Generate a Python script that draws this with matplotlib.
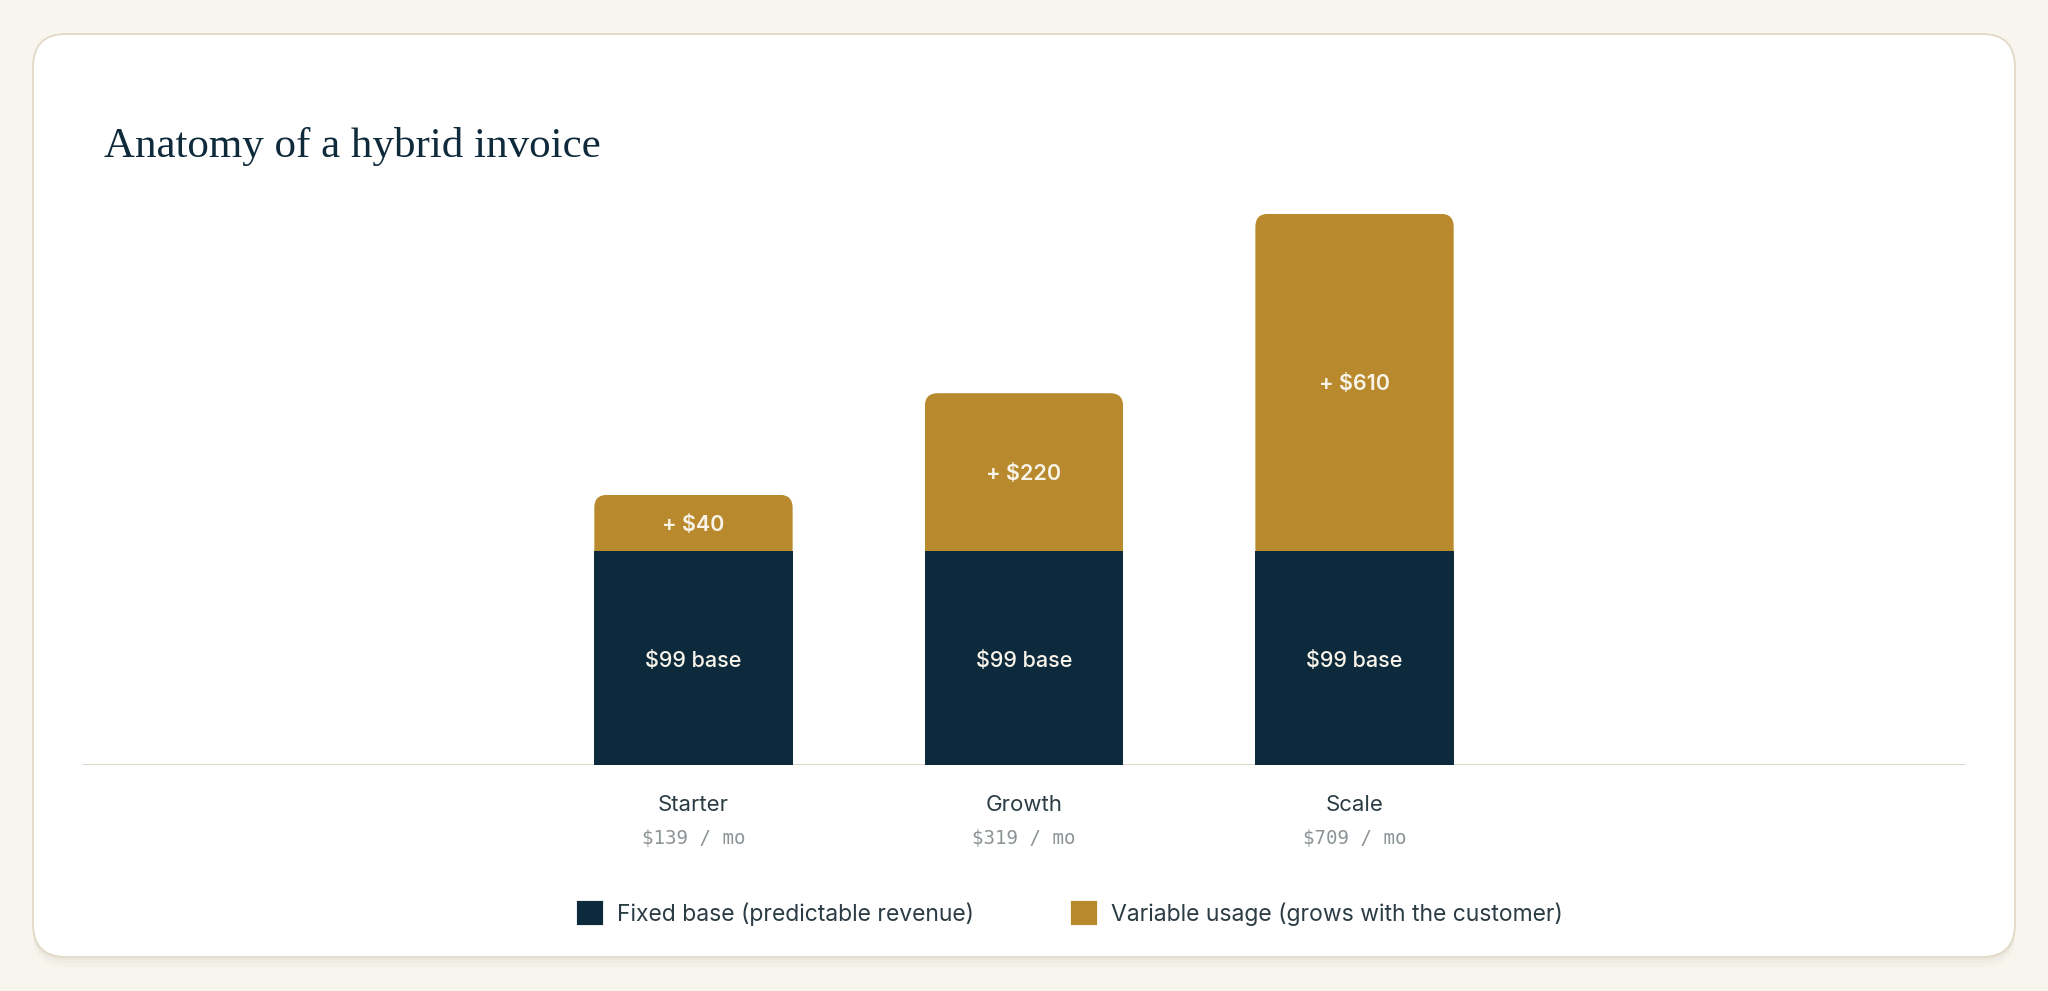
import matplotlib
matplotlib.use("Agg")
import matplotlib.pyplot as plt
from matplotlib.patches import FancyBboxPatch, Patch
import numpy as np

# ---- data ----
plans = ["Starter", "Growth", "Scale"]
base_fee = [99, 99, 99]
usage_fee = [40, 220, 610]
monthly_total = [139, 319, 709]
# segment heights as drawn on the chart (the chart does not draw $ linearly)
base_height = [99, 99, 99]
usage_height = [26, 73, 156]
legend_labels = ["Fixed base (predictable revenue)", "Variable usage (grows with the customer)"]

navy = "#0c2a3c"
gold = "#b9892d"
ink = "#2b3c45"
W, H, DPI = 2048, 991, 100

fig = plt.figure(figsize=(W / DPI, H / DPI), dpi=DPI, facecolor="#f8f5ee")

# card with soft shadow (behind the axes)
for off, a in [(0.10, 0.025), (0.06, 0.03), (0.03, 0.035)]:
    sh = FancyBboxPatch((0.33, 0.34 - off), 19.82, 9.23, boxstyle="round,pad=0,rounding_size=0.33",
                        transform=fig.dpi_scale_trans, fc="#6b5a30", ec="none", alpha=a, zorder=-3)
    fig.patches.append(sh)
card = FancyBboxPatch((0.33, 0.34), 19.82, 9.23, boxstyle="round,pad=0,rounding_size=0.33",
                      transform=fig.dpi_scale_trans, fc="white", ec="#e2dac7", lw=1.3, zorder=-2)
fig.patches.append(card)

fig.text(104 / W, 1 - 157 / H, "Anatomy of a hybrid invoice", family="Liberation Serif",
         size=31, color="#0e2a3b", va="baseline", ha="left")

# axes geometry (pixels)
px_per_unit = 214 / 99
ymax = 290
xlo, xhi = -1.85, 3.85
ax = fig.add_axes([82 / W, 226 / H, (1966 - 82) / W, ymax * px_per_unit / H])
ax.set_facecolor("none")
ax.set_xlim(xlo, xhi)
ax.set_ylim(0, ymax)
for s in ax.spines.values():
    s.set_visible(False)
ax.set_xticks([])
ax.set_yticks([])

x = np.arange(len(plans))
bw = 0.6
b1 = ax.bar(x, base_height, width=bw, color=navy, zorder=2)
b2 = ax.bar(x, usage_height, bottom=base_height, width=bw, color=gold, zorder=2)

# round the top corners of each stack
px_per_x = (1966 - 82) / (xhi - xlo)
aspect = px_per_x / px_per_unit
for r in b2:
    clip = FancyBboxPatch((r.get_x(), r.get_y() - 30), r.get_width(), r.get_height() + 30,
                          boxstyle="round,pad=0,rounding_size=%f" % (13 / px_per_x),
                          mutation_aspect=aspect, transform=ax.transData)
    r.set_clip_path(clip)

ax.axhline(0, color="#dbd5c8", lw=2, zorder=1)

for i in range(len(plans)):
    ax.annotate("\\$%d base" % base_fee[i], xy=(x[i], base_height[i] / 2), xytext=(0, -2),
                textcoords="offset points", ha="center", va="center",
                color="#f8f4ea", family="Inter", weight="medium", size=15.5, zorder=3)
    ax.annotate("+ \\$%d" % usage_fee[i], xy=(x[i], base_height[i] + usage_height[i] / 2), xytext=(0, -1.5),
                textcoords="offset points", ha="center", va="center",
                color="#f8f4ea", family="Inter", weight="semibold", size=15.5, zorder=3)
    ax.annotate(plans[i], xy=(x[i], 0), xytext=(0, -28.5), textcoords="offset points",
                ha="center", va="center", family="Inter", size=16, color=ink)
    ax.annotate("\\$%d / mo" % monthly_total[i], xy=(x[i], 0), xytext=(0, -53), textcoords="offset points",
                ha="center", va="center", family="DejaVu Sans Mono", size=13.8, color="#8d9497")

handles = [Patch(fc=navy, ec=navy, lw=3, joinstyle="round"),
           Patch(fc=gold, ec=gold, lw=3, joinstyle="round")]
leg = fig.legend(handles, legend_labels, loc="center", bbox_to_anchor=(1071 / W, 1 - 914 / H),
                 ncol=2, frameon=False, handlelength=0.95, handleheight=0.95, handletextpad=0.7,
                 columnspacing=4.3, prop={"family": "Inter", "size": 16.5})
for t in leg.get_texts():
    t.set_color(ink)

fig.savefig("out.png", dpi=DPI, facecolor=fig.get_facecolor())
